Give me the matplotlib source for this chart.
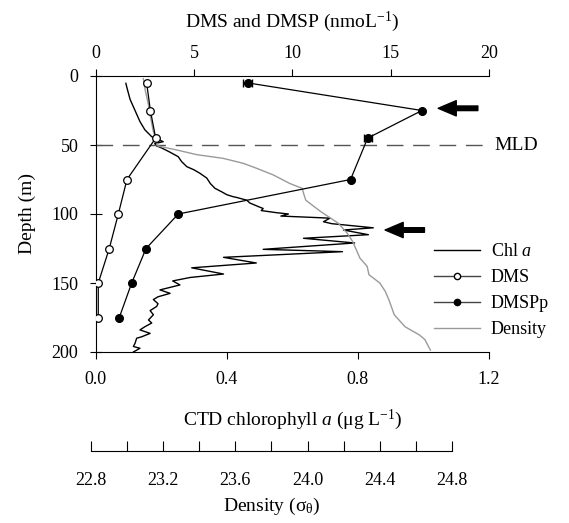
import numpy as np
import matplotlib
matplotlib.use('Agg')
import matplotlib.pyplot as plt
from matplotlib.lines import Line2D

plt.rcParams['font.family'] = ['Liberation Serif', 'DejaVu Serif']
plt.rcParams['mathtext.fontset'] = 'custom'
plt.rcParams['mathtext.rm'] = 'Liberation Serif'
plt.rcParams['mathtext.it'] = 'Liberation Serif:italic'

# discrete samples (nmol/L)
samp_depth = [5, 25, 45, 75, 100, 125, 150, 175]
dms = [2.59, 2.78, 3.05, 1.59, 1.15, 0.69, 0.13, 0.13]
dmsp = [7.73, 16.59, 13.83, 12.96, 4.20, 2.56, 1.83, 1.20]
dmsp_err = [0.23, 0, 0.2, 0, 0, 0, 0, 0]

# CTD chlorophyll profile
chl_depth = [5.3, 10, 17, 25, 33, 39, 44, 47.6, 49, 50.7, 52, 55, 58.5, 62, 65.7,
             68, 70.5, 74, 78, 81.4, 84, 86, 87.5, 88, 90, 92, 95, 96, 97.5, 99,
             100, 101.5, 103, 105.6, 107, 110, 111.6, 115, 117.6, 121, 125.6,
             127.3, 131.4, 135.5, 139, 143.5, 146, 148.5, 151.4, 155, 157.5, 160,
             162, 165, 167, 170, 173, 176.8, 179, 181.7, 184, 186.5, 189, 190,
             193.7, 196, 197.3, 200]
chl = [0.092, 0.097, 0.105, 0.12, 0.135, 0.15, 0.171, 0.206, 0.18, 0.186, 0.20,
       0.225, 0.252, 0.262, 0.278, 0.30, 0.318, 0.339, 0.35, 0.364, 0.385, 0.40,
       0.42, 0.43, 0.461, 0.47, 0.50, 0.511, 0.505, 0.55, 0.588, 0.565, 0.715,
       0.695, 0.72, 0.847, 0.756, 0.832, 0.634, 0.79, 0.511, 0.753, 0.39, 0.49,
       0.293, 0.39, 0.288, 0.235, 0.257, 0.196, 0.227, 0.19, 0.176, 0.19, 0.186,
       0.166, 0.176, 0.161, 0.171, 0.15, 0.135, 0.166, 0.14, 0.125, 0.12, 0.115,
       0.135, 0.115]

# density profile (sigma-theta)
dens_depth = [2, 10, 20, 30, 40, 47.6, 50.7, 53.6, 57, 59.7, 63.3, 66.9, 71.7,
              77.8, 81.4, 86, 90, 98, 106.7, 114, 120, 126, 132, 138, 144, 150,
              156, 162, 173, 181.7, 187.7, 191, 198.6]
dens = [23.09, 23.10, 23.117, 23.13, 23.145, 23.164, 23.17, 23.275, 23.386,
        23.533, 23.644, 23.718, 23.81, 23.90, 23.97, 23.98, 23.99, 24.07, 24.17,
        24.22, 24.25, 24.27, 24.29, 24.33, 24.34, 24.40, 24.43, 24.45, 24.48,
        24.54, 24.62, 24.65, 24.68]

W, H = 569, 523
fig = plt.figure(figsize=(W / 100, H / 100), dpi=100)

x0, x1 = 95.7, 489.0
y0, y1 = 76.0, 352.0
ax = fig.add_axes([x0 / W, 1 - y1 / H, (x1 - x0) / W, (y1 - y0) / H])
ax.patch.set_alpha(0)

gray = '#9a9a9a'

# density curve on hidden axis, scaled to match the lower density axis
dx0, dx1 = 91.0, 452.0
ppu = (dx1 - dx0) / 2.0
ax3 = ax.twiny()
ax3.plot(dens, dens_depth, color=gray, lw=1)
ax3.set_xlim(22.8 + (x0 - dx0) / ppu, 22.8 + (x1 - dx0) / ppu)
ax3.axis('off')

ax.plot(chl, chl_depth, color='black', lw=1)
ax.set_xlim(0, 1.2)
ax.set_ylim(200, 0)
ax.set_xticks([0, 0.4, 0.8, 1.2])
ax.set_xticklabels(['0.0', '0.4', '0.8', '1.2'])
ax.set_yticks([0, 50, 100, 150, 200])
ax.tick_params(axis='x', direction='out', length=5, labelsize=13, pad=9)
ax.tick_params(axis='y', direction='inout', length=9, labelsize=13, pad=8)
ax.spines['right'].set_visible(False)
ax.spines['top'].set_visible(False)
ax.set_xlabel(r'CTD chlorophyll $\it{a}$ ($\mathregular{\mu}$g L$^{\mathregular{-1}}$)',
              fontsize=14, labelpad=14)
ax.set_ylabel('Depth (m)', fontsize=14, labelpad=11)

ax2 = ax.twiny()
ax2.errorbar(dmsp, samp_depth, xerr=dmsp_err, color='black', lw=0.9,
             marker='o', markersize=5.5, mfc='black', mec='black',
             elinewidth=0.9, capsize=3)
ax2.plot(dms, samp_depth, color='black', lw=0.9, marker='o', markersize=5.5,
         mfc='white', mec='black', mew=0.9)
ax2.set_xlim(0, 20)
ax2.set_xticks([0, 5, 10, 15, 20])
ax2.tick_params(axis='x', direction='out', length=5, labelsize=13, pad=5)
for s in ['left', 'right', 'bottom']:
    ax2.spines[s].set_visible(False)
ax2.set_xlabel(r'DMS and DMSP (nmoL$^{\mathregular{-1}}$)', fontsize=14, labelpad=13)

# mixed layer depth
ax.axhline(50, color='#555555', lw=1, dashes=(12, 7))
ax.text(1.215, 50, 'MLD', fontsize=14, va='center', ha='left', clip_on=False)

# arrows
astyle = 'simple,head_length=1.3,head_width=1.1,tail_width=0.33'
ax.annotate('', xy=(1.045, 23.4), xytext=(1.166, 23.4),
            arrowprops=dict(arrowstyle=astyle, color='black', shrinkA=0, shrinkB=0),
            annotation_clip=False)
ax.annotate('', xy=(0.883, 111.6), xytext=(1.003, 111.6),
            arrowprops=dict(arrowstyle=astyle, color='black', shrinkA=0, shrinkB=0),
            annotation_clip=False)

handles = [
    Line2D([], [], color='black', lw=1),
    Line2D([], [], color='#444444', lw=1, marker='o', markersize=4.5, mfc='white', mec='black'),
    Line2D([], [], color='#444444', lw=1, marker='o', markersize=4.5, mfc='black', mec='black'),
    Line2D([], [], color=gray, lw=1),
]
labels = [r'Chl $\it{a}$', 'DMS', 'DMSPp', 'Density']
fig.legend(handles, labels, loc='upper left', bbox_to_anchor=(434 / W, 1 - 243 / H),
           frameon=False, fontsize=13, handlelength=2.55, handletextpad=0.6,
           labelspacing=0.5, borderpad=0, borderaxespad=0, numpoints=1)

# separate density axis
axd = fig.add_axes([dx0 / W, 1 - 451 / H, (dx1 - dx0) / W, 0.001])
axd.patch.set_alpha(0)
axd.set_xlim(22.8, 24.8)
axd.set_xticks(np.arange(22.8, 24.81, 0.2))
axd.set_xticklabels([f'{v:.1f}' if i % 2 == 0 else '' for i, v in
                     enumerate(np.arange(22.8, 24.81, 0.2))])
axd.set_yticks([])
for s in ['left', 'right', 'top']:
    axd.spines[s].set_visible(False)
axd.tick_params(axis='x', direction='in', length=7, labelsize=13, pad=15)
axd.set_xlabel(r'Density ($\mathregular{\sigma_{\theta}}$)', fontsize=14, labelpad=5)

fig.savefig('out.png', dpi=100)
